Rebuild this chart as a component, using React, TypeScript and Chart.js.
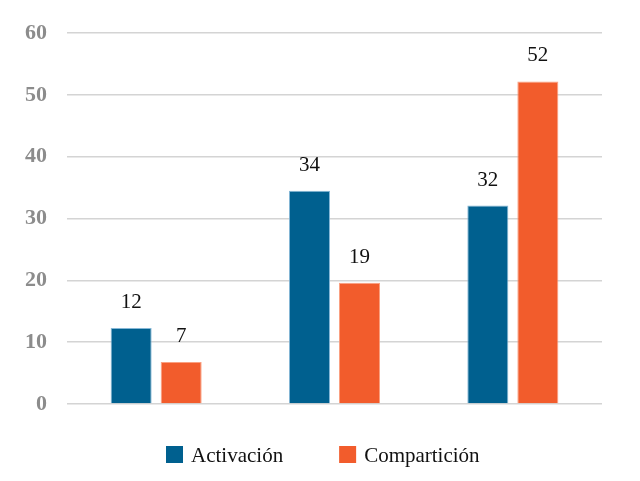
import React, { useEffect, useRef } from "react";
import { Chart, registerables } from "chart.js";

Chart.register(...registerables);

const categories = ["Grupo 1", "Grupo 2", "Grupo 3"];
const seriesNames = ["Activación", "Compartición"];
const activacion = [12.3, 34.5, 32.1];
const comparticion = [6.8, 19.6, 52.2];
const activacionLabels = ["12", "34", "32"];
const comparticionLabels = ["7", "19", "52"];
const yTicks = [0, 10, 20, 30, 40, 50, 60];

const BLUE = "#00608f";
const ORANGE = "#f25c2c";
const SERIF = "'Liberation Serif', 'Times New Roman', serif";

const valueLabelPlugin = {
  id: "valueLabels",
  afterDatasetsDraw(chart: any) {
    const { ctx } = chart;
    const labelSets = [activacionLabels, comparticionLabels];
    ctx.save();
    ctx.font = `normal 400 21px ${SERIF}`;
    ctx.fillStyle = "#111";
    ctx.textAlign = "center";
    ctx.textBaseline = "alphabetic";
    chart.data.datasets.forEach((_: any, di: number) => {
      const meta = chart.getDatasetMeta(di);
      meta.data.forEach((bar: any, i: number) => {
        ctx.fillText(labelSets[di][i], bar.x, bar.y - 20);
      });
    });
    ctx.restore();
  },
};

const customLegendPlugin = {
  id: "customLegend",
  afterDraw(chart: any) {
    const { ctx } = chart;
    ctx.save();
    ctx.font = `normal 400 21px ${SERIF}`;
    ctx.textBaseline = "middle";
    ctx.textAlign = "left";
    let x = 166;
    const boxTop = 446;
    const box = 17;
    chart.data.datasets.forEach((ds: any) => {
      ctx.fillStyle = ds.backgroundColor;
      ctx.fillRect(x, boxTop, box, box);
      const tx = x + box + 8;
      ctx.fillStyle = "#111";
      ctx.fillText(ds.label, tx, boxTop + box / 2 + 1.5);
      x = tx + ctx.measureText(ds.label).width + 56;
    });
    ctx.restore();
  },
};

export default function App() {
  const canvasRef = useRef<HTMLCanvasElement | null>(null);

  useEffect(() => {
    if (!canvasRef.current) return;
    let alive = true;
    const chart = new Chart(canvasRef.current, {
      type: "bar",
      data: {
        labels: categories,
        datasets: [
          {
            label: seriesNames[0],
            data: activacion,
            backgroundColor: BLUE,
            borderColor: "rgba(120,175,210,0.9)",
            borderWidth: 1,
            categoryPercentage: 0.561,
            barPercentage: 0.82,
          },
          {
            label: seriesNames[1],
            data: comparticion,
            backgroundColor: ORANGE,
            borderColor: "rgba(250,150,115,0.9)",
            borderWidth: 1,
            categoryPercentage: 0.561,
            barPercentage: 0.82,
          },
        ],
      },
      options: {
        animation: false,
        responsive: true,
        maintainAspectRatio: false,
        layout: { padding: { left: 0, right: 38, top: 32, bottom: 77 } },
        plugins: {
          legend: { display: false },
          tooltip: { enabled: false },
        },
        scales: {
          x: {
            display: false,
          },
          y: {
            min: yTicks[0],
            max: yTicks[yTicks.length - 1],
            afterFit(scale: any) {
              scale.width = 67;
            },
            afterBuildTicks(scale: any) {
              scale.ticks = yTicks.map((v) => ({ value: v }));
            },
            border: { display: false },
            grid: {
              color: "#d4d4d4",
              lineWidth: 1.5,
              drawTicks: false,
            },
            ticks: {
              padding: 20,
              color: "#8c8c8c",
              font: { family: SERIF, size: 22, weight: "bold" },
            },
          },
        },
      },
      plugins: [valueLabelPlugin, customLegendPlugin],
    });
    const fontsApi: any = (document as any).fonts;
    if (fontsApi && fontsApi.load) {
      Promise.all([
        fontsApi.load(`normal 400 21px "Liberation Serif"`),
        fontsApi.load(`normal 700 22px "Liberation Serif"`),
      ])
        .then(() => {
          if (alive) chart.update();
        })
        .catch(() => {});
    }
    return () => {
      alive = false;
      chart.destroy();
    };
  }, []);

  return (
    <div style={{ position: "absolute", left: 0, top: 0, width: 640, height: 481, background: "#fff" }}>
      <canvas ref={canvasRef} />
    </div>
  );
}
